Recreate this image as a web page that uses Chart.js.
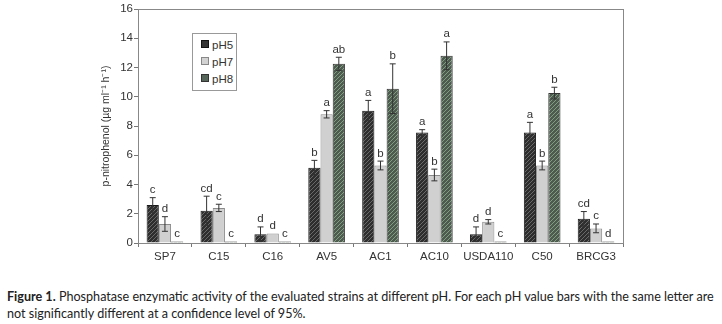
<!DOCTYPE html>
<html><head><meta charset="utf-8">
<script src="https://cdn.jsdelivr.net/npm/chart.js@4.4.0/dist/chart.umd.min.js"></script>
<style>
html,body{margin:0;padding:0;background:#fff;width:722px;height:324px;overflow:hidden}
#wrap{position:absolute;left:0;top:0;width:722px;height:264px}
#legend{position:absolute;left:192px;top:33px;width:43px;height:56px;border:1px solid #999;background:#fff;font-family:"Liberation Sans",Arial,sans-serif;font-size:11.5px;color:#333}
#legend div{position:absolute;left:8px;height:12px;line-height:12px}
#legend span{display:inline-block;width:6px;height:6px;margin-right:3px;vertical-align:1px}
#caption{position:absolute;left:7px;top:288px;white-space:nowrap;font-family:"Lato",sans-serif;font-size:12.6px;line-height:17px;color:#222}
</style></head><body>
<div id="wrap"><canvas id="c"></canvas></div>
<div id="legend">
<div style="top:5px"><span style="background:#333;border:1px solid #111"></span>pH5</div>
<div style="top:22px"><span style="background:#d2d2d2;border:1px solid #888"></span>pH7</div>
<div style="top:39px"><span style="background:#56665a;border:1px solid #333"></span>pH8</div>
</div>
<div id="caption"><b>Figure 1.</b> Phosphatase enzymatic activity of the evaluated strains at different pH. For each pH value bars with the same letter are<br>not significantly different at a confidence level of 95%.</div>
<script>
const categories = ["SP7","C15","C16","AV5","AC1","AC10","USDA110","C50","BRCG3"];
const pH5 = [2.6, 2.2, 0.6, 5.15, 9.05, 7.55, 0.6, 7.55, 1.65];
const pH7 = [1.3, 2.4, 0.65, 8.8, 5.3, 4.65, 1.45, 5.3, 1.0];
const pH8 = [0.1, 0.1, 0.1, 12.25, 10.55, 12.8, 0.1, 10.25, 0.1];
const err5 = [0.5, 1.0, 0.5, 0.5, 0.7, 0.2, 0.5, 0.7, 0.5];
const err7 = [0.5, 0.25, 0.0, 0.25, 0.3, 0.4, 0.15, 0.3, 0.3];
const err8 = [0.0, 0.0, 0.0, 0.45, 1.7, 0.95, 0.0, 0.4, 0.0];
const let5 = ["c","cd","d","b","a","a","d","a","cd"];
const let7 = ["d","c","d","a","b","b","d","b","c"];
const let8 = ["c","c","c","ab","b","a","c","b","d"];
const yTicks = [0,2,4,6,8,10,12,14,16];

function pattern(base, dot, kind){
  const p=document.createElement('canvas');p.width=4;p.height=4;const g=p.getContext('2d');
  g.fillStyle=base;g.fillRect(0,0,4,4);g.fillStyle=dot;
  if(kind==='x'){g.fillRect(0,0,1,1);g.fillRect(2,2,1,1);g.fillRect(1,3,1,1);g.fillRect(3,1,1,1);}
  else {g.fillRect(0,3,1,1);g.fillRect(1,2,1,1);g.fillRect(2,1,1,1);g.fillRect(3,0,1,1);}
  return document.getElementById('c').getContext('2d').createPattern(p,'repeat');
}
const errs=[err5,err7,err8], lets=[let5,let7,let8];
const errPlugin={id:'err',afterDatasetsDraw(chart){
  const ctx=chart.ctx, y=chart.scales.y;
  ctx.save();
  chart.data.datasets.forEach((ds,di)=>{
    const meta=chart.getDatasetMeta(di);
    meta.data.forEach((bar,i)=>{
      const v=ds.data[i], e=errs[di][i], x=bar.x;
      const yt=y.getPixelForValue(v+e), yb=y.getPixelForValue(v-e);
      if(e>0){
        ctx.strokeStyle='#333';ctx.lineWidth=1;ctx.beginPath();
        ctx.moveTo(x,yt);ctx.lineTo(x,yb);
        ctx.moveTo(x-3,yt);ctx.lineTo(x+3,yt);
        ctx.moveTo(x-3,yb);ctx.lineTo(x+3,yb);ctx.stroke();
      }
      ctx.fillStyle='#333';ctx.font='11.5px "Liberation Sans", Arial, sans-serif';
      ctx.textAlign='center';ctx.textBaseline='bottom';
      ctx.fillText(lets[di][i],x,Math.min(yt,bar.y)-2);
    });
  });
  const a=chart.chartArea;ctx.strokeStyle='#888';ctx.lineWidth=1;
  ctx.strokeRect(a.left+0.5,a.top+0.5,a.right-a.left,a.bottom-a.top);
  ctx.restore();
}};
const ds=[
 {label:'pH5',data:pH5,backgroundColor:pattern('#2e2e2e','#6a6a6a','x'),borderColor:'#1a1a1a',borderWidth:1},
 {label:'pH7',data:pH7,backgroundColor:'#d0d0d0',borderColor:'#8a8a8a',borderWidth:1},
 {label:'pH8',data:pH8,backgroundColor:pattern('#4e5a50','#7fa07f','d'),borderColor:'#333',borderWidth:1}
];
new Chart(document.getElementById('c'),{
  type:'bar',
  data:{labels:categories,datasets:ds},
  options:{responsive:true,maintainAspectRatio:false,animation:false,
    layout:{padding:{left:100,right:99,top:9,bottom:0}},
    plugins:{legend:{display:false},tooltip:{enabled:false}},
    datasets:{bar:{barPercentage:1,categoryPercentage:0.68}},
    scales:{
      x:{grid:{display:true,drawOnChartArea:false,offset:true,tickLength:4,color:'#777'},
         border:{color:'#777'},
         ticks:{color:'#333',font:{family:'"Liberation Sans", Arial, sans-serif',size:11.5},padding:3,maxRotation:0,minRotation:0,autoSkip:false},
         afterFit(s){s.height=21;}},
      y:{min:0,max:16,afterBuildTicks(s){s.ticks=yTicks.map(v=>({value:v}));},
         grid:{display:true,drawOnChartArea:false,tickLength:4,color:'#777'},
         border:{color:'#777'},
         ticks:{color:'#333',font:{family:'"Liberation Sans", Arial, sans-serif',size:11.5},padding:1},
         title:{display:true,text:'p-nitrophenol (µg ml⁻¹ h⁻¹)',color:'#333',font:{family:'"Liberation Sans", Arial, sans-serif',size:10.5},padding:0},
         afterFit(s){s.width=38;}}
    }
  },
  plugins:[errPlugin]
});
</script>
</body></html>
